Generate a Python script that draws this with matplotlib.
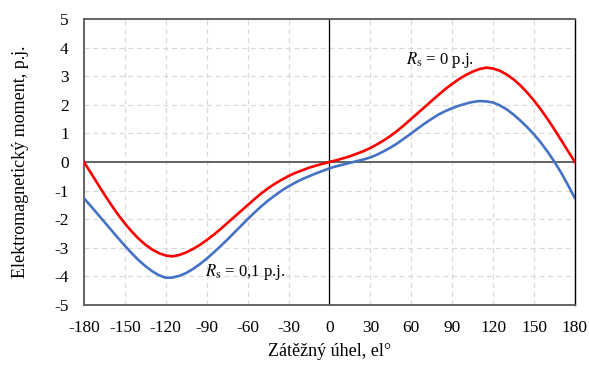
import matplotlib
matplotlib.use("Agg")
import matplotlib.pyplot as plt

plt.rcParams['font.family'] = ['Liberation Serif', 'DejaVu Serif']
plt.rcParams['mathtext.fontset'] = 'stix'
plt.rcParams['axes.unicode_minus'] = False

# zatezny uhel, el. stupne (krok 5)
delta = list(range(-180, 181, 5))

# Rs = 0 p.j. (0 .. 180, zaporna strana je antisymetricka)
rs0_pos = [0.00, 0.06, 0.13, 0.20, 0.29, 0.38, 0.49, 0.62, 0.76, 0.92,
           1.10, 1.30, 1.51, 1.72, 1.93, 2.14, 2.35, 2.55, 2.73, 2.90,
           3.04, 3.16, 3.25, 3.30, 3.27, 3.19, 3.06, 2.89, 2.68, 2.43,
           2.15, 1.84, 1.50, 1.14, 0.76, 0.38, 0.00]
moment_rs0 = [-v for v in rs0_pos[::-1]] + rs0_pos[1:]

# Rs = 0,1 p.j.
moment_rs01 = [-1.27, -1.54, -1.82, -2.10, -2.38, -2.66, -2.93, -3.19, -3.43, -3.64,
               -3.82, -3.96, -4.05, -4.04, -3.98, -3.88, -3.74, -3.57, -3.38, -3.17,
               -2.95, -2.72, -2.48, -2.24, -2.00, -1.77, -1.55, -1.35, -1.17, -1.00,
               -0.85, -0.72, -0.60, -0.50, -0.40, -0.31, -0.22,
               -0.15, -0.09, -0.03, 0.03, 0.09, 0.16, 0.26, 0.38, 0.51,
               0.66, 0.83, 1.00, 1.18, 1.35, 1.51, 1.66, 1.78, 1.88, 1.97,
               2.04, 2.10, 2.13, 2.12, 2.08, 1.98, 1.84, 1.66, 1.45, 1.22,
               0.97, 0.68, 0.36, 0.01, -0.38, -0.81, -1.26]

xticks = list(range(-180, 181, 30))
yticks = list(range(-5, 6))

fig = plt.figure(figsize=(5.89, 3.66), dpi=100)
ax = fig.add_axes([0.1426, 0.1667, 0.8334, 0.7813])

ax.grid(True, color='#d9d9d9', linestyle=(0, (4, 3)), linewidth=0.9)
ax.set_axisbelow(True)

ax.axhline(0, color='#595959', linewidth=1.3, zorder=2)
ax.axvline(0, color='black', linewidth=0.9, zorder=2)

ax.plot(delta, moment_rs01, color='#4472c4', linewidth=1.9, zorder=3)
ax.plot(delta, moment_rs0, color='#ff0000', linewidth=1.9, zorder=3)

ax.set_xlim(-180, 180)
ax.set_ylim(-5, 5)
ax.set_xticks(xticks)
ax.set_yticks(yticks)
ax.tick_params(length=0, labelsize=12.5, pad=11, colors='black')

for s in ['left', 'top', 'bottom']:
    ax.spines[s].set_color('#595959')
    ax.spines[s].set_linewidth(1.3)
ax.spines['right'].set_color('black')
ax.spines['right'].set_linewidth(1.0)

ax.set_xlabel('Zátěžný úhel, el°', fontsize=13, labelpad=5)
ax.set_ylabel('Elektromagnetický moment, p.j.', fontsize=13, labelpad=18)

ax.text(56, 3.57, r'$R_{\mathrm{s}}$ = 0 p.j.', fontsize=12, va='center', ha='left')
ax.text(-91, -3.83, r'$R_{\mathrm{s}}$ = 0,1 p.j.', fontsize=12, va='center', ha='left')

fig.savefig('out.png', dpi=100)
